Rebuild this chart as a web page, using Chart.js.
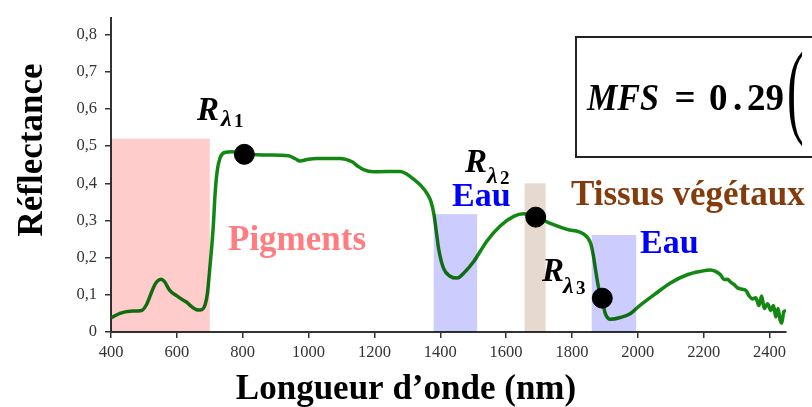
<!DOCTYPE html>
<html lang="fr">
<head>
    <meta charset="UTF-8">
    <title>Réflectance</title>
    <script src="https://cdn.jsdelivr.net/npm/chart.js"></script>
    <style>
        body { margin: 0; background: #fff; }
        #wrap { width: 812px; height: 407px; }
    </style>
</head>
<body>
    <div id="wrap"><canvas id="spectre" width="812" height="407"></canvas></div>

    <script>
        // Spectre de réflectance
        const wavelengths = [400, 427, 458, 493, 508, 520, 529, 540, 552, 562, 579, 600, 615, 630, 645, 660, 672, 686, 693,
            700, 706, 711, 716, 722, 731, 745, 770, 790, 807, 873, 939, 960, 974, 1000, 1025, 1096, 1132, 1150, 1167,
            1197, 1278, 1300, 1319, 1340, 1360, 1372, 1380, 1388, 1395, 1410, 1430, 1451, 1476, 1501, 1542, 1582,
            1623, 1653, 1689, 1744, 1785, 1836, 1856, 1865, 1871, 1881, 1891, 1901, 1917, 1947, 1978, 2003, 2049,
            2099, 2150, 2190, 2221, 2236, 2251, 2262, 2272, 2282, 2292, 2302, 2312, 2328, 2338, 2348, 2358, 2368,
            2376, 2384, 2394, 2404, 2412, 2419, 2426, 2432, 2437, 2443, 2450];
        const reflectance = [0.038, 0.050, 0.056, 0.058, 0.074, 0.100, 0.120, 0.136, 0.142, 0.136, 0.111, 0.097, 0.088,
            0.080, 0.068, 0.060, 0.059, 0.074, 0.105, 0.170, 0.230, 0.290, 0.370, 0.430, 0.468, 0.483, 0.485, 0.478,
            0.478, 0.476, 0.474, 0.466, 0.460, 0.465, 0.467, 0.467, 0.458, 0.446, 0.437, 0.431, 0.432, 0.424, 0.411,
            0.395, 0.372, 0.350, 0.320, 0.270, 0.224, 0.171, 0.150, 0.145, 0.163, 0.189, 0.245, 0.285, 0.311, 0.318,
            0.309, 0.289, 0.276, 0.263, 0.240, 0.205, 0.171, 0.119, 0.091, 0.050, 0.034, 0.039, 0.050, 0.069, 0.100,
            0.132, 0.154, 0.163, 0.167, 0.163, 0.154, 0.141, 0.142, 0.134, 0.128, 0.119, 0.116, 0.112, 0.097, 0.089,
            0.092, 0.071, 0.097, 0.063, 0.076, 0.058, 0.071, 0.041, 0.063, 0.032, 0.024, 0.054, 0.058];

        // Points R(lambda)
        const markerX = [805, 1690, 1892];
        const markerY = [0.478, 0.309, 0.091];

        // Bandes : pigments, eau, tissus végétaux, eau
        const bandStart = [400, 1380, 1656, 1860];
        const bandEnd = [700, 1512, 1720, 1995];
        const bandTop = [0.52, 0.317, 0.40, 0.261];

        const xTicks = [400, 600, 800, 1000, 1200, 1400, 1600, 1800, 2000, 2200, 2400];
        const yTicks = [0, 0.1, 0.2, 0.3, 0.4, 0.5, 0.6, 0.7, 0.8];
        const yTickLabels = ['0', '0,1', '0,2', '0,3', '0,4', '0,5', '0,6', '0,7', '0,8'];

        const bandColors = ['#ffcccc', '#ccccff', '#e6d9cf', '#ccccff'];
        const serif = '"Liberation Serif", "Times New Roman", serif';

        function drawR(ctx, x, y, sub, sx, sy) {
            ctx.fillStyle = '#000';
            ctx.textAlign = 'left';
            ctx.textBaseline = 'alphabetic';
            ctx.font = 'italic bold 33px ' + serif;
            ctx.fillText('R', x, y);
            ctx.font = 'italic bold 24px ' + serif;
            ctx.fillText('λ', sx, sy);
            ctx.font = 'bold 19px ' + serif;
            ctx.fillText(sub, sx + 13, sy + 1);
        }

        const decor = {
            id: 'decor',
            afterDatasetsDraw(chart) {
                const { ctx, scales: { x, y } } = chart;
                ctx.save();
                ctx.globalCompositeOperation = 'multiply';
                bandStart.forEach((s, i) => {
                    const x0 = x.getPixelForValue(s);
                    const x1 = x.getPixelForValue(bandEnd[i]);
                    const y0 = y.getPixelForValue(bandTop[i]);
                    const y1 = y.getPixelForValue(0);
                    ctx.fillStyle = bandColors[i];
                    ctx.fillRect(x0, y0, x1 - x0, y1 - y0);
                });
                ctx.restore();
            },
            afterDraw(chart) {
                const ctx = chart.ctx;
                ctx.save();
                ctx.textBaseline = 'alphabetic';

                // titres des axes
                ctx.fillStyle = '#000';
                ctx.font = 'bold 35px ' + serif;
                ctx.textAlign = 'center';
                ctx.fillText('Longueur d’onde (nm)', 406, 399);
                ctx.save();
                ctx.translate(42, 150);
                ctx.rotate(-Math.PI / 2);
                ctx.fillText('Réflectance', 0, 0);
                ctx.restore();

                // étiquettes des bandes
                ctx.textAlign = 'left';
                ctx.font = 'bold 35px ' + serif;
                ctx.fillStyle = '#ff7c80';
                ctx.fillText('Pigments', 228, 250);
                ctx.fillStyle = '#0000ff';
                ctx.font = 'bold 34px ' + serif;
                ctx.fillText('Eau', 452, 206);
                ctx.fillText('Eau', 640, 253);
                ctx.fillStyle = '#843c0c';
                ctx.font = 'bold 35px ' + serif;
                ctx.fillText('Tissus végétaux', 571, 205);

                // R lambda
                drawR(ctx, 197, 120, '1', 221, 126);
                drawR(ctx, 465, 172, '2', 487, 183);
                drawR(ctx, 542, 281, '3', 563, 293);

                // encadré formule
                ctx.strokeStyle = '#222';
                ctx.lineWidth = 2;
                ctx.strokeRect(576, 37, 260, 120);
                ctx.fillStyle = '#000';
                ctx.font = 'italic bold 37px ' + serif;
                ctx.fillText('MFS', 587, 110, 72);
                ctx.font = 'bold 37px ' + serif;
                ctx.textAlign = 'center';
                ctx.fillText('=', 685, 110);
                ctx.textAlign = 'left';
                ctx.fillText('0', 709, 110);
                ctx.fillText('.', 733, 110);
                ctx.fillText('29', 747, 110);
                ctx.save();
                ctx.translate(787, 124);
                ctx.scale(1, 2.07);
                ctx.font = '50px ' + serif;
                ctx.fillText('(', 0, 0);
                ctx.restore();

                ctx.restore();
            }
        };

        Chart.defaults.font.family = serif;

        const ctx = document.getElementById('spectre').getContext('2d');
        new Chart(ctx, {
            type: 'line',
            data: {
                datasets: [
                    {
                        label: 'R lambda',
                        data: markerX.map((v, i) => ({ x: v, y: markerY[i] })),
                        showLine: false,
                        pointRadius: 10,
                        pointBackgroundColor: '#000',
                        pointBorderColor: '#000'
                    },
                    {
                        label: 'Réflectance',
                        data: wavelengths.map((v, i) => ({ x: v, y: reflectance[i] })),
                        borderColor: '#128712',
                        borderWidth: 3.5,
                        pointRadius: 0,
                        cubicInterpolationMode: 'monotone',
                        fill: false
                    }
                ]
            },
            options: {
                responsive: false,
                animation: false,
                layout: { padding: { left: 0, right: 26, top: 9, bottom: 0 } },
                plugins: { legend: { display: false }, tooltip: { enabled: false } },
                scales: {
                    x: {
                        type: 'linear',
                        min: 400,
                        max: 2450,
                        afterFit: s => { s.height = 75; },
                        afterBuildTicks: s => { s.ticks = xTicks.map(v => ({ value: v })); },
                        border: { color: '#333', width: 2 },
                        grid: { drawOnChartArea: false, tickLength: 6, color: '#333', lineWidth: 1.5 },
                        ticks: { color: '#333', padding: 5, maxRotation: 0, font: { size: 16.5 }, callback: v => String(v) }
                    },
                    y: {
                        min: 0,
                        max: 0.845,
                        afterFit: s => { s.width = 111; },
                        afterBuildTicks: s => { s.ticks = yTicks.map(v => ({ value: v })); },
                        border: { color: '#333', width: 2 },
                        grid: { drawOnChartArea: false, tickLength: 6, color: '#333', lineWidth: 1.5 },
                        ticks: {
                            color: '#333',
                            padding: 8,
                            font: { size: 16.5 },
                            callback: (v) => {
                                const i = yTicks.findIndex(t => Math.abs(t - v) < 1e-6);
                                return i >= 0 ? yTickLabels[i] : '';
                            }
                        }
                    }
                }
            },
            plugins: [decor]
        });
    </script>
</body>
</html>
